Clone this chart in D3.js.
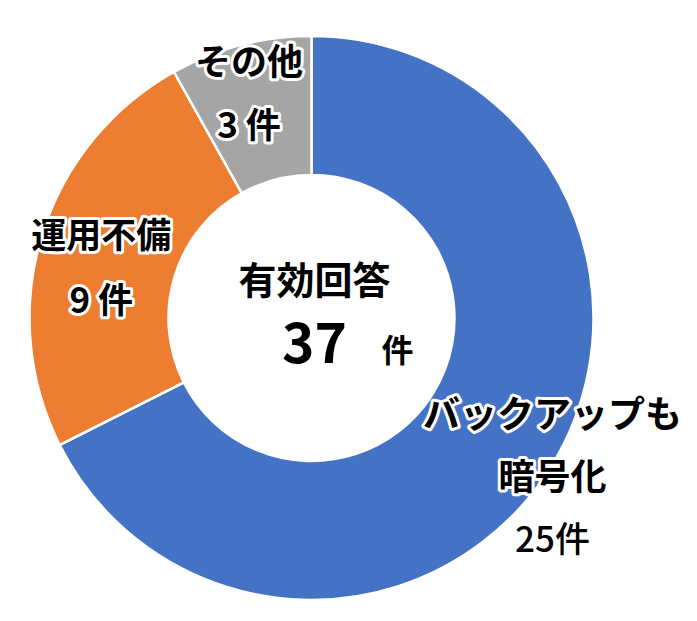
<!DOCTYPE html>
<html><head><meta charset="utf-8">
<script src="https://cdn.jsdelivr.net/npm/d3@7"></script>
<style>
html,body{margin:0;padding:0;background:#fff;}
svg{display:block;}
text{font-family:"Noto Sans CJK JP","Noto Sans",sans-serif;}
</style></head>
<body>
<script>
const categories = ["バックアップも暗号化", "運用不備", "その他"];
const values = [25, 9, 3];
const labelLines = [["バックアップも", "暗号化", "25件"], ["運用不備", "9 件"], ["その他", "3 件"]];
const colors = ["#4472C4", "#ED7D31", "#A5A5A5"];
const centerTitle = "有効回答";
const totalLabel = "37";
const unit = "件";

const W = 697, H = 621;
const cx = 311.5, cy = 318, R = 282, r = 143;

const svg = d3.select("body").append("svg").attr("width", W).attr("height", H);
const g = svg.append("g").attr("transform", `translate(${cx},${cy})`);

const pie = d3.pie().sort(null).value(d => d);
const arcs = pie(values);
const arc = d3.arc().innerRadius(r).outerRadius(R);

g.selectAll("path.slice").data(arcs).join("path")
  .attr("class", "slice")
  .attr("d", arc)
  .attr("fill", (d, i) => colors[i])
  .attr("stroke", "#fff")
  .attr("stroke-width", 2.5);

// labels: anchored on arc centroid with per-slice offsets (first-line baseline)
const labelArc = d3.arc().innerRadius((R + r) / 2).outerRadius((R + r) / 2);
const offsets = [[60, -1], [-7, -8], [-9, -37]];
const lineGap = [62, 65, 63];
const sizes = [[37, 36, 35], [35, 35], [36, 35]];
const weights = [[700, 600, 500], [700, 700], [700, 700]];

const halos = g.append("g"), texts = g.append("g");
arcs.forEach((a, i) => {
  const [x0, y0] = labelArc.centroid(a);
  const x = x0 + offsets[i][0], y = y0 + offsets[i][1];
  labelLines[i].forEach((ln, j) => {
    const yy = y + j * lineGap[i];
    [halos, texts].forEach((layer, k) => {
      const t = layer.append("text")
        .attr("x", x).attr("y", yy)
        .attr("text-anchor", "middle")
        .attr("font-size", sizes[i][j])
        .attr("font-weight", weights[i][j])
        .text(ln);
      if (k === 0) t.attr("fill", "none").attr("stroke", "#fff").attr("stroke-width", 6).attr("stroke-linejoin", "round");
    });
  });
});

// center text
g.append("text").attr("x", 3).attr("y", -24)
  .attr("text-anchor", "middle").attr("font-size", 38).attr("font-weight", 700)
  .text(centerTitle);
g.append("text").attr("x", 3).attr("y", 45)
  .attr("text-anchor", "middle").attr("font-size", 55).attr("font-weight", 700)
  .text(totalLabel);
g.append("text").attr("x", 86).attr("y", 44)
  .attr("text-anchor", "middle").attr("font-size", 32).attr("font-weight", 700)
  .text(unit);
</script>
</body></html>
